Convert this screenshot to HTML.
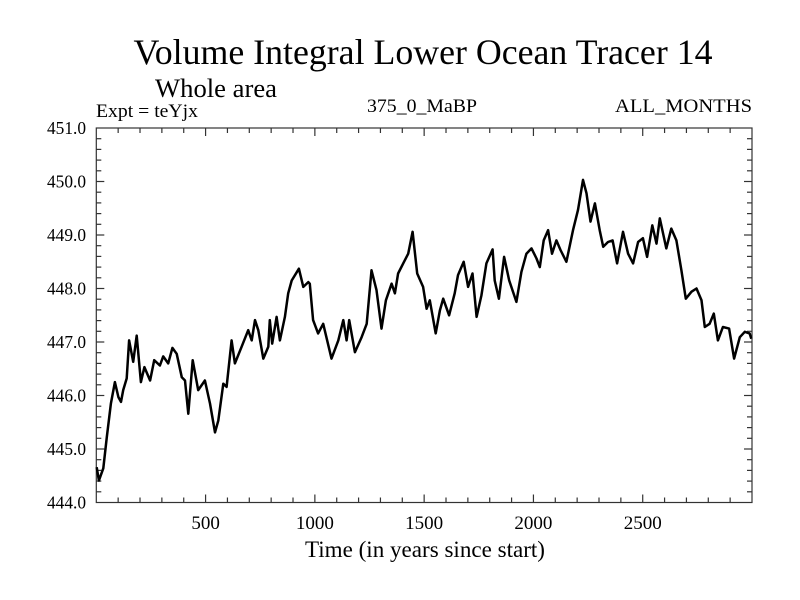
<!DOCTYPE html>
<html><head><meta charset="utf-8"><style>
html,body{margin:0;padding:0;background:#fff;}
svg{display:block;font-family:"Liberation Serif",serif;}
</style></head><body>
<svg id="chart" width="800" height="600" viewBox="0 0 800 600" xmlns="http://www.w3.org/2000/svg">
<text x="423" y="64" font-size="36" text-anchor="middle" textLength="579" lengthAdjust="spacingAndGlyphs">Volume Integral Lower Ocean Tracer 14</text>
<text x="155" y="97" font-size="26" textLength="122" lengthAdjust="spacingAndGlyphs">Whole area</text>
<text x="96" y="117" font-size="19" textLength="102" lengthAdjust="spacingAndGlyphs">Expt = teYjx</text>
<text x="367" y="112" font-size="19" textLength="110" lengthAdjust="spacingAndGlyphs">375_0_MaBP</text>
<text x="615" y="112" font-size="19" textLength="137" lengthAdjust="spacingAndGlyphs">ALL_MONTHS</text>
<text x="305" y="557" font-size="23" textLength="240" lengthAdjust="spacingAndGlyphs">Time (in years since start)</text>
<g id="axes"></g>
<g id="series"></g>
</svg>
<script>
const years=[2,12,32,48,67,85,101,113,123,139,150,169,185,204,220,246,265,291,306,329,348,368,391,406,421,441,466,497,520,543,558,581,596,619,634,665,695,711,726,741,764,787,794,805,825,840,863,878,894,927,947,970,977,992,1015,1038,1076,1107,1130,1145,1157,1183,1214,1237,1259,1282,1305,1325,1351,1366,1381,1404,1427,1447,1468,1495,1511,1526,1553,1572,1587,1614,1640,1655,1681,1701,1721,1740,1762,1785,1813,1823,1842,1866,1889,1922,1945,1968,1991,2014,2029,2047,2067,2085,2105,2124,2151,2181,2204,2227,2243,2261,2281,2303,2319,2341,2362,2383,2410,2433,2456,2479,2501,2520,2544,2563,2578,2608,2631,2654,2677,2697,2723,2746,2769,2784,2806,2825,2844,2867,2895,2918,2944,2967,2989,2997];
const values=[444.66,444.41,444.64,445.22,445.85,446.25,445.97,445.88,446.10,446.32,447.03,446.63,447.12,446.25,446.53,446.28,446.66,446.56,446.73,446.60,446.89,446.78,446.34,446.28,445.66,446.66,446.10,446.28,445.85,445.31,445.53,446.22,446.16,447.03,446.60,446.91,447.22,447.03,447.41,447.22,446.69,446.91,447.41,446.97,447.47,447.03,447.47,447.91,448.15,448.37,448.03,448.12,448.09,447.41,447.16,447.34,446.69,447.03,447.41,447.03,447.41,446.81,447.09,447.34,448.34,447.97,447.25,447.78,448.09,447.91,448.28,448.47,448.65,449.06,448.28,448.03,447.62,447.78,447.16,447.59,447.81,447.50,447.91,448.25,448.50,448.03,448.28,447.47,447.87,448.47,448.73,448.15,447.81,448.59,448.15,447.75,448.31,448.65,448.75,448.56,448.40,448.90,449.09,448.65,448.90,448.72,448.50,449.09,449.47,450.03,449.78,449.25,449.59,449.09,448.78,448.87,448.90,448.47,449.06,448.65,448.47,448.87,448.94,448.59,449.18,448.84,449.31,448.75,449.12,448.90,448.34,447.81,447.94,448.00,447.78,447.28,447.34,447.53,447.03,447.28,447.25,446.69,447.09,447.19,447.16,447.06];
const xTickLabels=["500","1000","1500","2000","2500"];
const yTickLabels=["444.0","445.0","446.0","447.0","448.0","449.0","450.0","451.0"];
const X0=96.3,X1=752,Y0=502.5,Y1=128,XMIN=0,XMAX=3000,YMIN=444,YMAX=451;
function sx(v){return X0+(v-XMIN)/(XMAX-XMIN)*(X1-X0);}
function sy(v){return Y0-(v-YMIN)/(YMAX-YMIN)*(Y0-Y1);}
const NS="http://www.w3.org/2000/svg";
const axes=document.getElementById('axes');
function mk(tag,attrs,parent){const e=document.createElementNS(NS,tag);for(const k in attrs)e.setAttribute(k,attrs[k]);parent.appendChild(e);return e;}
const frame=mk('rect',{x:X0,y:Y1,width:X1-X0,height:Y0-Y1,fill:'none',stroke:'#333','stroke-width':1.2},axes);


for(let t=100;t<3000;t+=100){
  const major=t%500===0,L=major?8:5,x=sx(t);
  const a=mk('line',{x1:x,x2:x,y1:Y0,y2:Y0-L,stroke:'#333','stroke-width':1.2},axes);
  
  
  const b=mk('line',{x1:x,x2:x,y1:Y1,y2:Y1+L,stroke:'#333','stroke-width':1.2},axes);
  
  
}
xTickLabels.forEach(s=>{
  const tx=mk('text',{x:sx(+s),y:529,'font-size':19,'text-anchor':'middle'},axes);tx.textContent=s;
  
  
});
for(let i=1;i<35;i++){
  const v=YMIN+i*0.2,major=i%5===0,L=major?8:5,y=sy(v);
  const a=mk('line',{x1:X0,x2:X0+L,y1:y,y2:y,stroke:'#333','stroke-width':1.2},axes);
  
  
  const b=mk('line',{x1:X1,x2:X1-L,y1:y,y2:y,stroke:'#333','stroke-width':1.2},axes);
  
  
}
yTickLabels.forEach(s=>{
  const tx=mk('text',{x:47,y:sy(+s)+6,'font-size':18,textLength:39,lengthAdjust:'spacingAndGlyphs'},axes);tx.textContent=s;
  
  
});
const d=years.map((t,i)=>(i?'L':'M')+sx(t).toFixed(1)+' '+sy(values[i]).toFixed(1)).join(' ');
const line=mk('path',{d:d,fill:'none',stroke:'#000','stroke-width':2.5,'stroke-linejoin':'round'},document.getElementById('series'));


</script>
</body></html>
